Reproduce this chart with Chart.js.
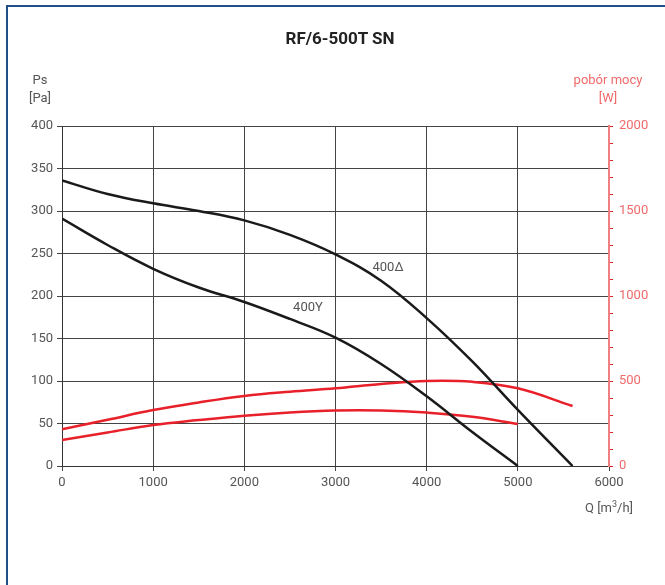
<!DOCTYPE html>
<html lang="pl">
<head>
  <meta charset="UTF-8">
  <title>RF/6-500T SN</title>
  <script src="https://cdn.jsdelivr.net/npm/chart.js"></script>
  <style>
    body { margin: 0; background: #fff; font-family: Roboto, "DejaVu Sans", sans-serif; }
    #wrap { position: relative; width: 665px; height: 585px; overflow: hidden; }
    #frame { position: absolute; left: 6px; top: 5px; width: 700px; height: 600px;
             border-left: 2px solid #1f4f85; border-top: 2px solid #1f4f85; }
    canvas { position: absolute; left: 0; top: 0; }
    .lbl { position: absolute; font-size: 13px; color: #555; white-space: nowrap; transform: translateX(-50%); }
    .red { color: #f06a6a; }
    #title { position: absolute; top: 28px; left: 340px; transform: translateX(-50%);
             font-size: 17px; font-weight: bold; color: #222; white-space: nowrap; }
  </style>
</head>
<body>
  <div id="wrap">
    <div id="frame"></div>
    <canvas id="fanChart" width="665" height="585"></canvas>
    <div id="title">RF/6-500T SN</div>
    <div class="lbl" style="left:40px; top:72px;">Ps</div>
    <div class="lbl" style="left:40px; top:90px;">[Pa]</div>
    <div class="lbl red" style="left:608px; top:72px;">pobór mocy</div>
    <div class="lbl red" style="left:608px; top:90px;">[W]</div>
    <div class="lbl" style="left:609px; top:499px;">Q [m<sup style="font-size:9px;">3</sup>/h]</div>
  </div>

  <script>
    // airflow Q [m3/h]
    const qDelta = [0, 500, 1000, 1500, 2000, 2500, 3000, 3500, 4000, 4500, 5000, 5600];
    const qStar = [0, 500, 1000, 1500, 2000, 2500, 3000, 3500, 4000, 4500, 5000];

    // static pressure Ps [Pa]
    const psDelta = [336, 320, 309, 300, 289, 272, 249, 218, 174, 123, 66, 0];
    const psStar = [291, 260, 232, 210, 193, 173, 151, 120, 82, 40, 0];

    // power consumption [W]
    const powerDelta = [216, 272, 329, 374, 412, 437, 457, 482, 500, 495, 457, 353];
    const powerStar = [153, 197, 241, 270, 296, 315, 326, 326, 314, 290, 247];

    const curveLabels = [
      { text: "400\u0394", q: 3576, ps: 233 },
      { text: "400Y", q: 2698, ps: 186 }
    ];

    function pts(xs, ys) {
      return xs.map((x, i) => ({ x: x, y: ys[i] }));
    }

    const curveLabelPlugin = {
      id: "curveLabels",
      afterDatasetsDraw(chart) {
        const ctx = chart.ctx;
        const sx = chart.scales.x, sy = chart.scales.y;
        ctx.save();
        ctx.font = "13px Roboto";
        ctx.fillStyle = "#555";
        ctx.textAlign = "center";
        ctx.textBaseline = "middle";
        curveLabels.forEach(l => {
          ctx.fillText(l.text, sx.getPixelForValue(l.q), sy.getPixelForValue(l.ps));
        });
        ctx.restore();
      }
    };

    const black = "#1a1a1a";
    const red = "#e8202a";

    new Chart(document.getElementById("fanChart"), {
      type: "line",
      data: {
        datasets: [
          { data: pts(qDelta, psDelta), borderColor: black, yAxisID: "y" },
          { data: pts(qStar, psStar), borderColor: black, yAxisID: "y" },
          { data: pts(qDelta, powerDelta), borderColor: red, yAxisID: "y2" },
          { data: pts(qStar, powerStar), borderColor: red, yAxisID: "y2" }
        ]
      },
      options: {
        responsive: false,
        animation: false,
        layout: { padding: { top: 126 } },
        elements: {
          point: { radius: 0 },
          line: { borderWidth: 2.5, tension: 0.4, fill: false }
        },
        plugins: { legend: { display: false }, tooltip: { enabled: false } },
        scales: {
          x: {
            type: "linear",
            min: 0, max: 6000,
            afterFit: s => { s.height = 119; },
            ticks: { stepSize: 1000, color: "#555", font: { family: "Roboto", size: 13 }, padding: 4,
                     callback: v => String(v) },
            grid: { color: "#444", lineWidth: 1, tickLength: 5 },
            border: { color: "#333", width: 1 }
          },
          y: {
            position: "left",
            min: 0, max: 400,
            afterFit: s => { s.width = 62; },
            ticks: { stepSize: 50, autoSkip: false, color: "#555", font: { family: "Roboto", size: 13 }, padding: 4,
                     callback: v => String(v) },
            grid: { color: "#444", lineWidth: 1, tickLength: 5 },
            border: { color: "#333", width: 1 }
          },
          y2: {
            position: "right",
            min: 0, max: 2000,
            afterFit: s => { s.width = 56; },
            ticks: {
              stepSize: 100, autoSkip: false, color: "#f06a6a",
              font: { family: "Roboto", size: 13 }, padding: 6,
              callback: v => (v % 500 === 0 ? String(v) : "")
            },
            grid: { drawOnChartArea: false, color: "#e8202a", tickLength: 4 },
            border: { color: "#f08080", width: 2 }
          }
        }
      },
      plugins: [curveLabelPlugin]
    });
  </script>
</body>
</html>
